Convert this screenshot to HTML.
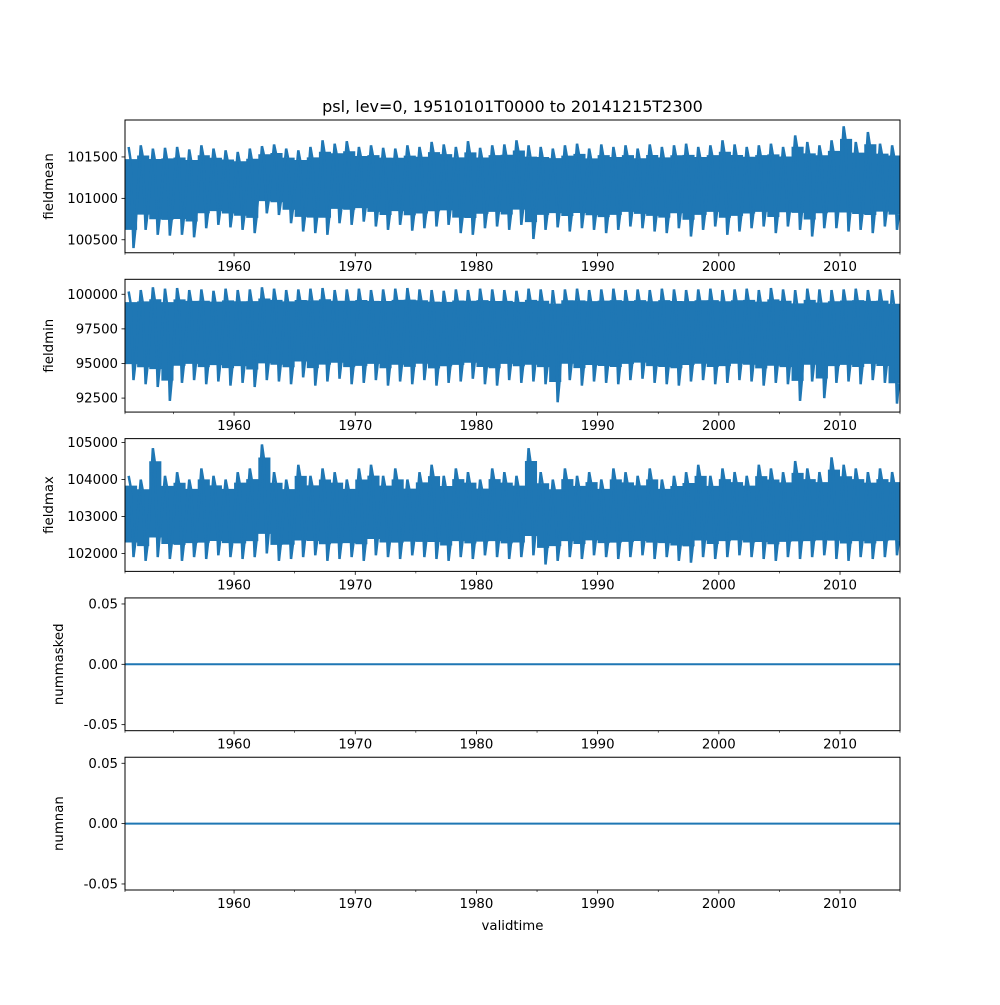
<!DOCTYPE html>
<html><head><meta charset="utf-8"><style>
body{margin:0;background:#fff;}
svg text{font-family:"DejaVu Sans","Liberation Sans",sans-serif;fill:#000;}
</style></head><body>
<svg id="fig" width="1000" height="1000" viewBox="0 0 1000 1000">
<rect width="1000" height="1000" fill="#fff"/>
<text x="512.5" y="112" font-size="16" text-anchor="middle">psl, lev=0, 19510101T0000 to 20141215T2300</text>
<text x="512.5" y="930" font-size="13.3" text-anchor="middle">validtime</text>
</svg>
<script>
const years = [1951,1952,1953,1954,1955,1956,1957,1958,1959,1960,1961,1962,1963,1964,1965,1966,1967,1968,1969,1970,1971,1972,1973,1974,1975,1976,1977,1978,1979,1980,1981,1982,1983,1984,1985,1986,1987,1988,1989,1990,1991,1992,1993,1994,1995,1996,1997,1998,1999,2000,2001,2002,2003,2004,2005,2006,2007,2008,2009,2010,2011,2012,2013,2014];
const meanHi = [101620,101640,101600,101610,101620,101590,101640,101600,101580,101560,101600,101630,101650,101600,101580,101620,101700,101660,101690,101620,101640,101610,101600,101640,101620,101680,101650,101620,101690,101610,101640,101650,101700,101640,101620,101600,101640,101660,101600,101650,101620,101640,101600,101650,101620,101640,101660,101620,101640,101700,101650,101620,101640,101660,101620,101760,101680,101640,101700,101870,101680,101800,101660,101640];
const meanLo = [100400,100620,100560,100550,100560,100530,100640,100680,100650,100620,100580,100820,100800,100700,100600,100580,100560,100700,100680,100720,100660,100620,100680,100610,100640,100660,100680,100580,100560,100640,100660,100620,100680,100510,100620,100650,100600,100640,100620,100580,100620,100660,100640,100600,100580,100640,100540,100620,100660,100560,100600,100640,100660,100580,100660,100620,100540,100640,100640,100600,100620,100580,100660,100620];
const minHi = [100200,100300,100500,100400,100450,100300,100350,100250,100400,100300,100350,100500,100400,100300,100350,100400,100450,100300,100350,100400,100300,100350,100400,100450,100350,100300,100250,100350,100300,100400,100350,100300,100250,100400,100350,100300,100350,100400,100300,100350,100400,100300,100350,100300,100400,100350,100300,100350,100400,100300,100350,100400,100300,100450,100350,100300,100400,100350,100300,100350,100400,100300,100350,100300];
const minLo = [93800,93500,93300,92300,93600,93800,93500,93700,93400,93600,93300,93800,93700,93500,94000,93400,93700,93900,93500,93600,93800,93400,93700,93500,93800,93400,93600,93700,93900,93500,93400,93800,93600,93700,93500,92200,93800,93400,93700,93600,93500,93800,93900,93600,93500,93400,93700,93800,93500,93600,93800,93700,93400,93600,93500,92300,93700,92500,93600,93700,93500,93800,93600,92100];
const maxHi = [104100,104000,104850,104100,104200,104000,104300,104100,104000,104200,104300,104950,104200,104000,104400,104100,104300,104200,104000,104300,104400,104100,104300,104000,104200,104400,104100,104300,104200,104000,104300,104200,104100,104850,104200,104000,104300,104100,104200,104000,104300,104200,104100,104300,104000,104100,104200,104400,104100,104300,104200,104100,104400,104300,104200,104500,104300,104200,104600,104400,104300,104200,104300,104200];
const maxLo = [101900,101800,101900,101850,101800,101900,101850,101950,101900,101850,101900,102000,101800,101850,101900,101950,101800,101850,101900,101800,101950,101900,101850,101950,101900,101850,101800,101900,101850,101950,101900,101850,101900,101950,101700,101800,101900,101850,101950,101900,101850,101900,101950,101850,101900,101800,101750,101900,101850,101900,101950,101900,101850,101800,101900,101850,101900,101950,101850,101800,101900,101850,101900,101950];
const flatVals = [0,0];
const xTickYears = [1960,1970,1980,1990,2000,2010];
const xMinorYears = [1955,1965,1975,1985,1995,2005];
const panels = [
 {name:'fieldmean', hi:meanHi, lo:meanLo, ymin:100343, ymax:101946, ticks:[100500,101000,101500]},
 {name:'fieldmin', hi:minHi, lo:minLo, ymin:91490, ymax:101080, ticks:[92500,95000,97500,100000]},
 {name:'fieldmax', hi:maxHi, lo:maxLo, ymin:101514, ymax:105108, ticks:[102000,103000,104000,105000]},
 {name:'nummasked', flat:true, ymin:-0.055, ymax:0.055, ticks:[-0.05,0,0.05]},
 {name:'numnan', flat:true, ymin:-0.055, ymax:0.055, ticks:[-0.05,0,0.05]}
];
const NS='http://www.w3.org/2000/svg';
const svg=document.getElementById('fig');
const L=125,R=900,T0=120,H=132.76,GAP=26.55;
const X0=1951.0,X1=2014.95;
const xs=v=>L+(v-X0)/(X1-X0)*(R-L);
function mk(tag,attrs,parent){const e=document.createElementNS(NS,tag);for(const k in attrs)e.setAttribute(k,attrs[k]);(parent||svg).appendChild(e);return e;}
function fmt(v,flat){return flat?v.toFixed(2):String(v);}
panels.forEach((p,i)=>{
 const top=T0+i*(H+GAP),bot=top+H;
 const ys=v=>bot-(v-p.ymin)/(p.ymax-p.ymin)*H;
 const g=mk('g',{});
 
 
 const cp=mk('clipPath',{id:'c'+i},g);mk('rect',{x:L,y:top,width:R-L,height:H},cp);
 const dg=mk('g',{'clip-path':'url(#c'+i+')'},g);
 if(p.flat){
  const ln=mk('line',{x1:xs(X0),x2:xs(X1),y1:ys(flatVals[0]),y2:ys(flatVals[1]),stroke:'#1f77b4','stroke-width':2},dg);
  
  
 } else {
  let up=[],dn=[],zz=[];
  years.forEach((y,k)=>{
   const core=(p.hi[k]-p.lo[k]);
   const cHi=p.hi[k]-core*0.12, cLo=p.lo[k]+core*0.18;
   up.push(xs(Math.max(X0,y))+','+ys(cHi));up.push(xs(Math.min(X1,y+1))+','+ys(cHi));
   dn.unshift(xs(Math.max(X0,y))+','+ys(cLo));dn.unshift(xs(Math.min(X1,y+1))+','+ys(cLo));
   zz.push(xs(y+0.3)+','+ys(p.hi[k]));zz.push(xs(y+0.45)+','+ys(cHi));zz.push(xs(y+0.7)+','+ys(p.lo[k]));zz.push(xs(y+0.85)+','+ys(cLo));
  });
  const poly=mk('polygon',{points:up.concat(dn).join(' '),fill:'#1f77b4'},dg);
  
  
  const pl=mk('polyline',{points:zz.join(' '),fill:'none',stroke:'#1f77b4','stroke-width':2.5},dg);
  
  
 }
 const fr=mk('rect',{x:L,y:top,width:R-L,height:H,fill:'none',stroke:'#000','stroke-width':1},g);
 
 
 p.ticks.forEach(t=>{
  const y=ys(t);
  mk('line',{x1:L-3.5,x2:L,y1:y,y2:y,stroke:'#000','stroke-width':0.8},g);
  const tx=mk('text',{x:L-7,y:y+4.5,'font-size':13.3,'text-anchor':'end'},g);
  tx.textContent=fmt(t,p.flat);
  
  
 });
 xTickYears.forEach(yr=>{
  const x=xs(yr);
  mk('line',{x1:x,x2:x,y1:bot,y2:bot+3.5,stroke:'#000','stroke-width':0.8},g);
  const tx=mk('text',{x:x,y:bot+18,'font-size':13.3,'text-anchor':'middle'},g);
  tx.textContent=yr;
  
  
 });
 xMinorYears.concat([X0,X1]).forEach(yr=>{
  const x=xs(yr);
  mk('line',{x1:x,x2:x,y1:bot,y2:bot+2,stroke:'#000','stroke-width':0.6},g);
 });
 const yl=mk('text',{x:0,y:0,'font-size':13.3,'text-anchor':'middle',transform:'translate('+(p.flat?63:53)+','+(top+H/2)+') rotate(-90)'},g);
 yl.textContent=p.name;
 
 
});
</script>
</body></html>
